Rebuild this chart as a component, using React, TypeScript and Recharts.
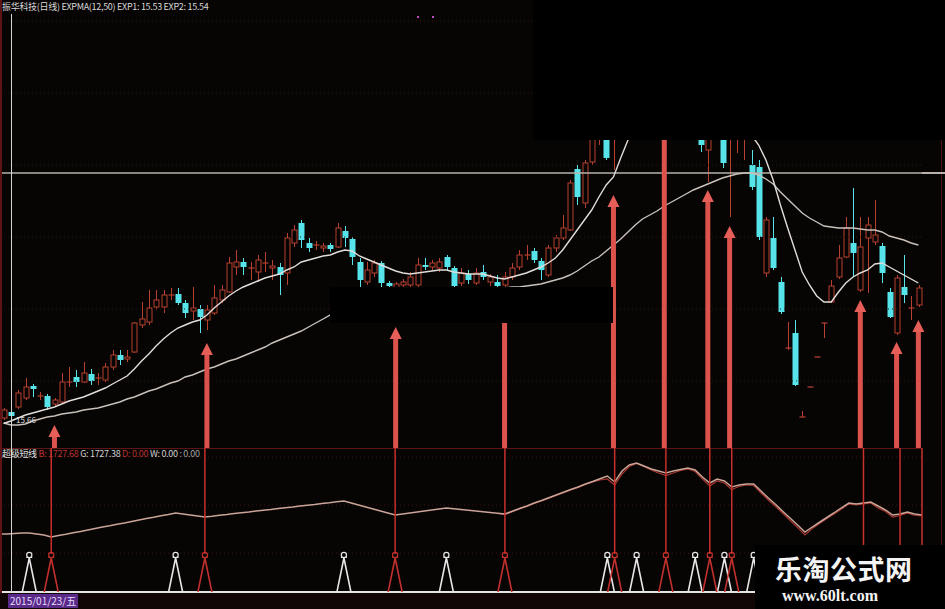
import React from 'react';
import { ComposedChart, Bar, Line, Scatter, XAxis, YAxis, ReferenceLine } from 'recharts';

// daily candles (price)
const opens = [
  15.64, 15.76, 15.86, 16.04, 16.28, 16.08, 16.08, 15.92, 15.96, 16.36,
  16.46, 16.36, 16.52, 16.44, 16.40, 16.66, 16.90, 16.82, 16.96, 17.50,
  17.56, 17.86, 17.86, 18.10, 18.12, 17.94, 17.78, 17.82, 17.60, 17.74,
  18.00, 18.16, 18.66, 18.76, 18.64, 18.56, 18.74, 18.64, 18.66, 18.54,
  19.14, 19.54, 19.14, 19.10, 19.04, 19.10, 19.06, 19.38, 19.22, 18.76,
  18.36, 18.54, 18.74, 18.34, 18.16, 18.30, 18.30, 18.30, 18.70, 18.66,
  18.64, 18.86, 18.64, 18.34, 18.52, 18.34, 18.56, 18.36, 18.36, 18.30,
  18.46, 18.66, 18.90, 18.98, 18.78, 18.50, 19.04, 19.24, 19.40, 20.62,
  19.94, 20.76, 21.30, 21.60, 21.30, 22.00, 22.50, 22.10, 22.80, 23.10,
  22.60, 22.90, 22.40, 22.80, 22.20, 22.40, 21.70, 21.00, 21.60, 21.30,
  21.30, 21.30, 21.40, 20.70, 20.66, 18.54, 19.24, 18.36, 17.02, 17.34,
  15.66, 16.26, 16.86, 17.54, 17.96, 18.46, 18.86, 19.14, 18.20, 19.24,
  19.16, 19.08, 18.16, 17.34, 18.26, 17.82, 17.90,
];
const highs = [
  15.84, 15.80, 16.20, 16.44, 16.32, 16.16, 16.12, 16.04, 16.54, 16.66,
  16.60, 16.76, 16.62, 16.54, 16.74, 17.00, 17.00, 17.00, 17.56, 17.96,
  18.20, 18.20, 18.20, 18.24, 18.24, 18.00, 18.26, 17.90, 17.90, 18.30,
  18.30, 18.86, 19.00, 18.84, 18.76, 18.90, 18.96, 18.80, 18.74, 19.34,
  19.50, 19.60, 19.24, 19.18, 19.14, 19.14, 19.54, 19.48, 19.26, 18.84,
  18.76, 18.80, 18.78, 18.38, 18.36, 18.42, 18.56, 18.84, 18.84, 18.80,
  18.84, 18.90, 18.68, 18.64, 18.60, 18.64, 18.70, 18.52, 18.50, 18.56,
  18.74, 19.00, 19.10, 19.04, 18.84, 19.10, 19.30, 19.70, 20.40, 20.70,
  20.80, 21.90, 22.20, 21.80, 22.40, 22.80, 22.90, 23.00, 23.30, 23.20,
  23.10, 23.00, 23.00, 22.90, 22.70, 22.60, 21.90, 21.80, 22.10, 21.50,
  21.90, 22.00, 22.10, 21.00, 20.80, 19.66, 19.66, 18.46, 17.56, 17.60,
  15.78, 16.27, 16.87, 17.54, 18.40, 19.10, 19.66, 20.24, 19.66, 19.66,
  20.00, 19.14, 18.24, 18.50, 18.90, 18.08, 18.30,
];
const lows = [
  15.60, 15.64, 15.82, 16.00, 16.06, 16.00, 15.80, 15.88, 15.92, 16.26,
  16.26, 16.34, 16.30, 16.30, 16.36, 16.60, 16.70, 16.76, 16.94, 17.44,
  17.50, 17.80, 17.74, 18.00, 17.90, 17.64, 17.60, 17.34, 17.40, 17.70,
  17.94, 18.14, 18.50, 18.50, 18.40, 18.36, 18.56, 18.40, 18.10, 18.30,
  19.06, 19.04, 18.96, 19.00, 18.96, 18.96, 19.04, 19.06, 18.70, 18.26,
  18.30, 18.46, 18.26, 18.20, 18.08, 18.20, 18.20, 18.24, 18.60, 18.60,
  18.56, 18.60, 18.16, 18.28, 18.32, 18.30, 18.40, 18.28, 18.20, 18.20,
  18.40, 18.60, 18.80, 18.74, 18.40, 18.46, 18.96, 19.20, 19.38, 19.90,
  19.84, 20.70, 21.10, 20.80, 20.60, 21.60, 21.80, 21.90, 22.40, 22.30,
  22.20, 22.00, 22.10, 21.80, 21.60, 21.50, 20.96, 20.36, 21.30, 20.64,
  19.66, 20.94, 20.80, 20.20, 19.20, 18.46, 18.60, 17.72, 17.00, 16.28,
  15.66, 16.26, 16.86, 17.24, 17.94, 18.42, 18.84, 18.46, 18.16, 18.14,
  19.10, 18.34, 17.64, 17.30, 17.94, 17.60, 17.86,
];
const closes = [
  15.80, 15.68, 16.14, 16.26, 16.22, 16.08, 15.86, 16.00, 16.36, 16.36,
  16.36, 16.54, 16.38, 16.44, 16.66, 16.90, 16.80, 16.86, 17.54, 17.62,
  17.84, 18.00, 18.10, 18.10, 17.94, 17.74, 17.84, 17.66, 17.80, 18.04,
  18.20, 18.74, 18.76, 18.66, 18.64, 18.80, 18.74, 18.68, 18.50, 19.24,
  19.40, 19.20, 19.04, 19.10, 19.08, 19.02, 19.44, 19.24, 18.86, 18.40,
  18.60, 18.74, 18.34, 18.28, 18.32, 18.36, 18.46, 18.70, 18.66, 18.74,
  18.76, 18.66, 18.28, 18.54, 18.40, 18.54, 18.46, 18.46, 18.28, 18.46,
  18.64, 18.90, 18.90, 18.80, 18.60, 19.04, 19.24, 19.44, 20.34, 20.06,
  20.74, 21.60, 22.00, 20.84, 22.10, 22.60, 22.10, 22.80, 23.10, 22.60,
  22.90, 22.40, 22.80, 22.30, 22.50, 21.80, 21.10, 21.60, 21.90, 20.74,
  21.70, 21.80, 21.90, 20.26, 19.26, 19.60, 18.64, 17.76, 17.04, 16.30,
  15.66, 16.26, 16.86, 17.54, 18.28, 18.84, 19.44, 18.94, 19.06, 19.50,
  19.30, 18.54, 17.66, 18.44, 18.10, 17.84, 18.24,
];

// EXPMA(12,50)
const exp1 = [
  15.53, 15.58, 15.64, 15.70, 15.74, 15.78, 15.82, 15.86, 15.92, 15.98,
  16.02, 16.06, 16.12, 16.18, 16.24, 16.32, 16.40, 16.48, 16.62, 16.78,
  16.92, 17.08, 17.22, 17.34, 17.44, 17.50, 17.56, 17.60, 17.70, 17.84,
  17.96, 18.08, 18.18, 18.26, 18.32, 18.38, 18.44, 18.48, 18.52, 18.60,
  18.66, 18.76, 18.80, 18.84, 18.88, 18.90, 18.96, 19.00, 18.98, 18.88,
  18.82, 18.76, 18.70, 18.64, 18.58, 18.54, 18.52, 18.54, 18.56, 18.58,
  18.60, 18.60, 18.56, 18.54, 18.52, 18.52, 18.52, 18.48, 18.44, 18.42,
  18.46, 18.50, 18.54, 18.60, 18.66, 18.74, 18.84, 19.00, 19.20, 19.40,
  19.60, 19.80, 20.06, 20.30, 20.46, 20.84, 21.20, 21.50, 21.70, 21.84,
  21.94, 22.02, 22.06, 22.10, 22.10, 22.08, 22.04, 21.98, 21.90, 21.80,
  21.68, 21.54, 21.38, 21.30, 21.10, 20.80, 20.40, 19.90, 19.44, 19.00,
  18.56, 18.30, 18.08, 17.96, 17.96, 18.16, 18.34, 18.46, 18.54, 18.60,
  18.72, 18.74, 18.66, 18.58, 18.50, 18.42, 18.34,
];
const exp2 = [
  15.54, 15.50, 15.50, 15.52, 15.58, 15.62, 15.66, 15.68, 15.72, 15.74,
  15.76, 15.80, 15.82, 15.84, 15.88, 15.92, 15.96, 16.02, 16.06, 16.12,
  16.18, 16.22, 16.28, 16.34, 16.38, 16.46, 16.50, 16.56, 16.62, 16.66,
  16.72, 16.78, 16.82, 16.88, 16.94, 17.00, 17.06, 17.14, 17.20, 17.26,
  17.32, 17.38, 17.46, 17.54, 17.62, 17.70, 17.74, 17.76, 17.80, 17.82,
  17.84, 17.86, 17.88, 17.92, 17.94, 17.96, 17.98, 18.00, 18.02, 18.04,
  18.06, 18.08, 18.10, 18.12, 18.14, 18.16, 18.18, 18.20, 18.22, 18.24,
  18.26, 18.26, 18.28, 18.30, 18.32, 18.36, 18.40, 18.44, 18.50, 18.58,
  18.68, 18.78, 18.86, 18.98, 19.10, 19.22, 19.36, 19.50, 19.62, 19.70,
  19.78, 19.88, 19.96, 20.04, 20.12, 20.20, 20.26, 20.32, 20.38, 20.44,
  20.48, 20.52, 20.54, 20.54, 20.50, 20.42, 20.32, 20.16, 20.02, 19.88,
  19.74, 19.64, 19.56, 19.48, 19.46, 19.44, 19.44, 19.44, 19.42, 19.40,
  19.40, 19.36, 19.28, 19.24, 19.20, 19.14, 19.10,
];

// lower panel indicator (超级短线)
const gLine = [
  1556, 1556, 1558, 1560, 1560, 1556, 1552, 1544, 1550, 1555,
  1561, 1566, 1572, 1578, 1584, 1589, 1595, 1600, 1606, 1612,
  1618, 1623, 1629, 1634, 1640, 1636, 1632, 1628, 1624, 1627,
  1631, 1634, 1638, 1641, 1644, 1648, 1651, 1654, 1658, 1661,
  1664, 1668, 1671, 1674, 1678, 1681, 1685, 1688, 1680, 1672,
  1664, 1656, 1648, 1640, 1632, 1636, 1640, 1644, 1648, 1652,
  1656, 1660, 1657, 1654, 1651, 1648, 1645, 1642, 1639, 1636,
  1647, 1658, 1668, 1680, 1690, 1701, 1712, 1723, 1734, 1744,
  1756, 1766, 1777, 1788, 1764, 1808, 1832, 1840, 1828, 1816,
  1808, 1800, 1808, 1814, 1820, 1812, 1784, 1760, 1776, 1768,
  1744, 1752, 1756, 1756, 1728, 1700, 1674, 1646, 1619, 1592,
  1564, 1584, 1603, 1622, 1641, 1661, 1680, 1676, 1680, 1684,
  1668, 1652, 1632, 1636, 1644, 1636, 1632,
];
const dLine = [
  null, null, null, null, null, null, null, null, null, null,
  null, null, null, null, null, null, null, null, null, null,
  null, null, null, null, null, null, null, null, null, null,
  null, null, null, null, null, null, null, null, null, null,
  null, null, null, null, null, null, null, null, null, null,
  null, null, null, null, null, null, null, null, null, null,
  null, null, null, null, null, null, null, null, 1638, 1634,
  1645, 1656, 1666, 1678, 1688, 1699, 1710, 1721, 1732, 1742,
  1754, 1764, 1772, 1776, 1752, 1796, 1826, 1838, 1826, 1812,
  1800, 1790, 1800, 1810, 1816, 1806, 1776, 1748, 1768, 1760,
  1734, 1746, 1752, 1750, 1720, 1692, 1666, 1638, 1610, 1582,
  1552, 1578, 1598, 1618, 1636, 1656, 1676, 1672, 1676, 1680,
  1660, 1646, 1624, 1630, 1640, 1630, 1628,
];

// buy signals (red arrows) and their tip prices
const buyDays = [7, 28, 54, 69, 84, 91, 97, 100, 118, 123, 126];
const buyTips = [15.5, 17.14, 17.46, 18.0, 20.1, 22.0, 20.2, 19.48, 18.0, 17.16, 17.6];
// white / red triangle marks on the lower panel
const whiteMarks = [4, 24, 47, 61, 83, 87, 95, 99, 103, 110, 117, 121];
const redMarks = [7, 28, 54, 69, 84, 91, 97, 100, 118, 123, 126];
const monthTicks = [22, 44, 65, 85];
const priceGrid = [23.58, 22.14, 20.7, 19.26, 17.82, 16.38];
const indGrid = [1864, 1672, 1480];
const cursorPrice = 20.54;

const BG = '#070404';
const W = 945;
const TOP_H = 448;
const BOT_H = 161;
const RIGHT = 23;

const data = opens.map((o, i) => {
  const b = buyDays.indexOf(i);
  return {
    day: i,
    open: o,
    high: highs[i],
    low: lows[i],
    close: closes[i],
    exp1: exp1[i],
    exp2: exp2[i],
    g: gLine[i],
    d: dLine[i],
    tip: b >= 0 ? buyTips[b] : null,
    sig: b >= 0 ? 4 : null,
    wm: whiteMarks.includes(i) ? 1 : null,
    rm: redMarks.includes(i) ? 1 : null,
  };
});

const Candle = (props: any) => {
  const { x, y, width, height, payload } = props;
  if (!payload || height == null) return <g />;
  const { open, close, high, low } = payload;
  const top = Math.min(y, y + height);
  const h = Math.abs(height);
  const k = h / (high - low);
  const yOf = (v: number) => top + (high - v) * k;
  const up = close >= open;
  const color = up ? '#b8402f' : '#56e4ea';
  const cx = Math.round(x + width / 2) + 0.5;
  const bw = Math.round(width);
  const left = cx - bw / 2;
  const bTop = yOf(Math.max(open, close));
  const bBot = yOf(Math.min(open, close));
  if (bBot - bTop < 1) {
    return (
      <g>
        <line x1={cx} x2={cx} y1={top} y2={top + h} stroke={color} />
        <line x1={left - 0.5} x2={left + bw + 0.5} y1={bTop} y2={bTop} stroke={color} strokeWidth={1.2} />
      </g>
    );
  }
  if (up) {
    return (
      <g>
        <line x1={cx} x2={cx} y1={top} y2={bTop} stroke={color} />
        <line x1={cx} x2={cx} y1={bBot} y2={top + h} stroke={color} />
        <rect x={left} y={bTop} width={bw} height={bBot - bTop} fill={BG} stroke={color} />
      </g>
    );
  }
  return (
    <g>
      <line x1={cx} x2={cx} y1={top} y2={top + h} stroke={color} />
      <rect x={left - 0.5} y={bTop} width={bw + 1} height={bBot - bTop} fill={color} />
    </g>
  );
};

const Arrow = (props: any) => {
  const { cx, cy, payload } = props;
  if (!payload || payload.tip == null || cy == null) return <g />;
  const head = 12;
  return (
    <g>
      <rect x={cx - 2.5} y={cy + head - 1} width={5} height={TOP_H - cy - head + 1} fill="#dc524c" />
      <polygon points={`${cx - 6},${cy + head} ${cx},${cy} ${cx + 6},${cy + head}`} fill="#e65e58" />
    </g>
  );
};

const SigLine = (props: any) => {
  const { cx, cy, payload } = props;
  if (!payload || payload.sig == null || cy == null) return <g />;
  return <line x1={cx} x2={cx} y1={cy} y2={cy + 106} stroke="#c8302c" strokeWidth={1.5} />;
};

const makeMark = (color: string, key: 'wm' | 'rm') => (props: any) => {
  const { cx, cy, payload } = props;
  if (!payload || payload[key] == null || cy == null) return <g />;
  const top = cy + 2;
  return (
    <g>
      <polyline
        points={`${cx - 7},${top + 34} ${cx},${top} ${cx + 7},${top + 34}`}
        fill="none"
        stroke={color}
        strokeWidth={1.6}
      />
      <circle cx={cx} cy={top - 3} r={2.6} fill="none" stroke={color} strokeWidth={1.2} />
      <line x1={cx - 3} x2={cx + 3} y1={top - 0.5} y2={top - 0.5} stroke={color} />
    </g>
  );
};
const WhiteMark = makeMark('#e6e6e6', 'wm');
const RedMark = makeMark('#c0302c', 'rm');

const txt: React.CSSProperties = {
  position: 'absolute',
  fontFamily: '"Noto Sans CJK SC", "DejaVu Sans", sans-serif',
  whiteSpace: 'nowrap',
};

export default function App() {
  return (
    <div style={{ position: 'absolute', left: 0, top: 0, width: W, height: 609, background: BG, overflow: 'hidden' }}>
      <div style={{ position: 'absolute', left: 0, top: 0 }}>
        <ComposedChart width={W} height={TOP_H} data={data} margin={{ top: 0, right: RIGHT, bottom: 0, left: 0 }} barCategoryGap="18%">
          <XAxis dataKey="day" type="category" hide />
          <YAxis yAxisId="p" type="number" domain={[15.04, 24.0]} allowDataOverflow hide />
          {priceGrid.map((p) => (
            <ReferenceLine key={p} yAxisId="p" y={p} stroke="#3a1010" strokeDasharray="1 3" />
          ))}
          <ReferenceLine yAxisId="p" y={cursorPrice} stroke="#b9b1aa" strokeWidth={1.5} />
          <Bar yAxisId="p" dataKey={(d: any) => [d.low, d.high]} shape={Candle} isAnimationActive={false} />
          <Line yAxisId="p" dataKey="exp2" stroke="#c9c2bb" strokeWidth={1.4} dot={false} isAnimationActive={false} />
          <Line yAxisId="p" dataKey="exp1" stroke="#e2ddd8" strokeWidth={1.4} dot={false} isAnimationActive={false} />
          <Scatter yAxisId="p" dataKey="tip" shape={Arrow} isAnimationActive={false} />
        </ComposedChart>
      </div>
      <div style={{ position: 'absolute', left: 0, top: TOP_H }}>
        <ComposedChart width={W} height={BOT_H} data={data} margin={{ top: 0, right: RIGHT, bottom: 0, left: 0 }}>
          <XAxis
            dataKey="day"
            type="category"
            height={17}
            ticks={monthTicks}
            interval={0}
            tick={false}
            axisLine={false}
            tickLine={{ stroke: '#8a2626' }}
            tickSize={10}
          />
          <YAxis yAxisId="g" type="number" domain={[1324, 1900]} allowDataOverflow hide />
          <YAxis yAxisId="s" type="number" domain={[0, 4]} allowDataOverflow hide />
          {indGrid.map((v) => (
            <ReferenceLine key={v} yAxisId="g" y={v} stroke="#3a1010" strokeDasharray="1 3" />
          ))}
          <ReferenceLine yAxisId="g" y={1900} stroke="#7a1c1c" strokeWidth={1.5} />
          <Line yAxisId="g" dataKey="d" stroke="#a8362f" strokeWidth={1.2} dot={false} connectNulls={false} isAnimationActive={false} />
          <Line yAxisId="g" dataKey="g" stroke="#c9a497" strokeWidth={1.5} dot={false} isAnimationActive={false} />
          <Scatter yAxisId="s" dataKey="sig" shape={SigLine} isAnimationActive={false} />
          <Scatter yAxisId="s" dataKey="wm" shape={WhiteMark} isAnimationActive={false} />
          <Scatter yAxisId="s" dataKey="rm" shape={RedMark} isAnimationActive={false} />
          <ReferenceLine yAxisId="s" y={0} stroke="#e4e4e4" strokeWidth={2} />
        </ComposedChart>
      </div>

      {/* frame lines */}
      <div style={{ position: 'absolute', left: 0, top: 0, width: 2, height: 609, background: '#5e1414' }} />
      <div style={{ position: 'absolute', left: 11, top: 14, width: 1, height: 578, background: '#d4d4d4' }} />
      <div style={{ position: 'absolute', left: 941, top: 140, width: 1, height: 405, background: '#4a1212' }} />
      <div style={{ position: 'absolute', left: W - RIGHT, top: 172, width: RIGHT, height: 1.5, background: '#b9b1aa' }} />
      <div style={{ position: 'absolute', left: 0, top: 593, width: W, height: 16, background: '#100606' }} />

      {/* texts */}
      <div style={{ ...txt, left: 2, top: 0, fontSize: 9, lineHeight: '14px', color: '#d8d8d8', letterSpacing: -0.3 }}>
        振华科技(日线) EXPMA(12,50) EXP1: {exp1[0].toFixed(2)} EXP2: {exp2[0].toFixed(2)}
      </div>
      <div style={{ position: 'absolute', left: 417, top: 16, width: 2, height: 2, background: '#c04cc0' }} />
      <div style={{ position: 'absolute', left: 432, top: 16, width: 2, height: 2, background: '#c04cc0' }} />
      <div style={{ ...txt, left: 16, top: 414, fontSize: 8, lineHeight: '12px', color: '#e0e0e0' }}>15.66</div>
      <div style={{ ...txt, left: 2, top: 447, fontSize: 9, lineHeight: '13px', letterSpacing: -0.3 }}>
        <span style={{ color: '#e0e0e0' }}>超级短线 </span>
        <span style={{ color: '#b8322c' }}>B: 1727.68 </span>
        <span style={{ color: '#d0d0d0' }}>G: 1727.38 </span>
        <span style={{ color: '#b8322c' }}>D: 0.00 </span>
        <span style={{ color: '#d0d0d0' }}>W: 0.00 </span>
        <span style={{ color: '#a0a0a0' }}>: 0.00</span>
      </div>
      <div
        style={{ ...txt, left: 8, top: 594, height: 14, padding: '0 2px', fontSize: 10, lineHeight: '14px', color: '#e6dcff', background: '#5a2a88' }}
      >
        2015/01/23/五
      </div>

      {/* masked areas of the screenshot */}
      <div style={{ position: 'absolute', left: 533, top: 0, width: W - 533, height: 140, background: '#000' }} />
      <div style={{ position: 'absolute', left: 330, top: 287, width: 283, height: 36, background: '#000' }} />
      <div style={{ position: 'absolute', left: 755, top: 545, width: W - 755, height: 64, background: '#000' }}>
        <div style={{ ...txt, left: 20, top: 8, fontSize: 27, lineHeight: '32px', fontWeight: 700, color: '#f4f4f4', letterSpacing: 0.5 }}>
          乐淘公式网
        </div>
        <div style={{ ...txt, left: 27, top: 42, fontSize: 16, lineHeight: '18px', fontWeight: 700, color: '#f4f4f4', fontFamily: '"Liberation Serif", serif' }}>
          www.60lt.com
        </div>
      </div>
    </div>
  );
}
